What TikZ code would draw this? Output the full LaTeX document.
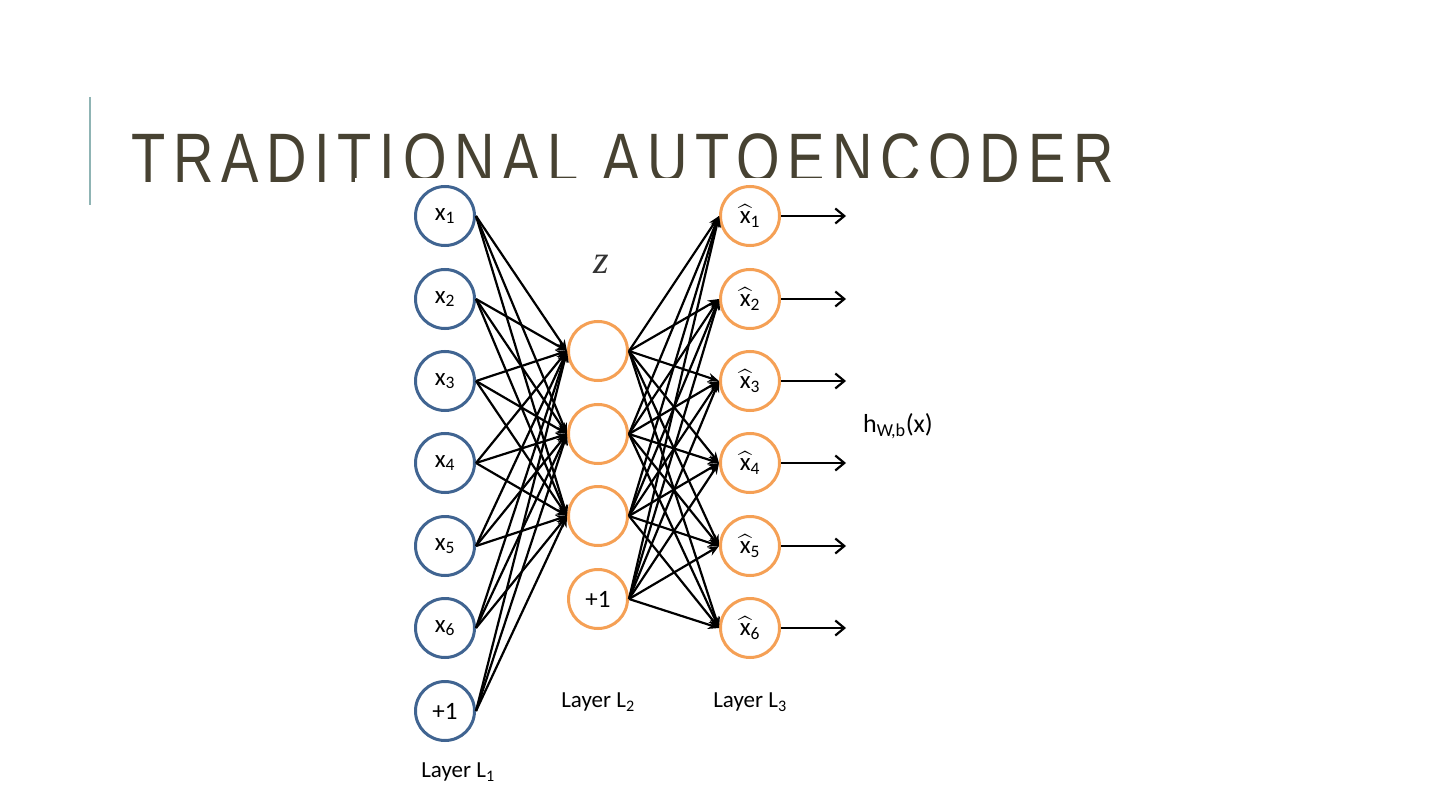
\documentclass[tikz,border=0pt]{standalone}
\usepackage{amsmath}
\usepackage{fontspec}
\setmainfont{Carlito}
\newfontfamily\titlefont[FakeStretch=0.8,LetterSpace=11]{Liberation Sans}
\newfontfamily\zfont{Liberation Serif}
\usetikzlibrary{arrows.meta,positioning}
\definecolor{titlegray}{RGB}{71,66,50}
\definecolor{barteal}{RGB}{143,180,180}
\definecolor{inblue}{RGB}{64,100,145}
\definecolor{hidorange}{RGB}{245,160,85}
\newcommand{\xh}{$\widehat{\text{x}}$}

\begin{document}
\begin{tikzpicture}[x=1pt,y=-1pt,
every node/.style={circle,draw,line width=3pt,minimum size=59pt,inner sep=0pt,
font=\fontsize{25}{28}\selectfont},
lbl/.style={draw=none,rectangle,minimum size=0pt,inner sep=0pt,font=\fontsize{23}{26}\selectfont},
link/.style={line width=2.2pt,-{Stealth[length=11pt,width=9pt]}},
outlink/.style={line width=2.2pt,-{Straight Barb[length=9pt,width=15pt]}}]
\useasboundingbox (0,0) rectangle (1440,810);
% title
\draw[barteal,line width=2pt] (90,97)--(90,205);
\node[lbl,anchor=base west,text=titlegray,font=\titlefont\fontsize{70}{80}\selectfont] (T) at (130,183) {TRADITIONAL AUTOENCODER};
\fill[white] (355,178) rectangle (965,805);
% layer 1
\node[draw=inblue] (X1) at (445,216) {x\textsubscript{1}};
\node[draw=inblue] (X2) at (445,299) {x\textsubscript{2}};
\node[draw=inblue] (X3) at (445,381) {x\textsubscript{3}};
\node[draw=inblue] (X4) at (445,463) {x\textsubscript{4}};
\node[draw=inblue] (X5) at (445,546) {x\textsubscript{5}};
\node[draw=inblue] (X6) at (445,628) {x\textsubscript{6}};
\node[draw=inblue] (X7) at (445,711) {+1};
% layer 2
\node[draw=hidorange] (H1) at (598,351) {};
\node[draw=hidorange] (H2) at (598,434) {};
\node[draw=hidorange] (H3) at (598,516) {};
\node[draw=hidorange] (H4) at (598,599) {+1};
% layer 3
\node[draw=hidorange] (Y1) at (750,216) {\xh\textsubscript{1}};
\node[draw=hidorange] (Y2) at (750,299) {\xh\textsubscript{2}};
\node[draw=hidorange] (Y3) at (750,381) {\xh\textsubscript{3}};
\node[draw=hidorange] (Y4) at (750,463) {\xh\textsubscript{4}};
\node[draw=hidorange] (Y5) at (750,546) {\xh\textsubscript{5}};
\node[draw=hidorange] (Y6) at (750,628) {\xh\textsubscript{6}};
% links
\foreach \i in {1,...,7}
  \foreach \j in {1,2,3}
    \draw[link] (X\i.east)--(H\j.west);
\foreach \i in {1,...,4}
  \foreach \j in {1,...,6}
    \draw[link] (H\i.east)--(Y\j.west);
\foreach \j in {1,...,6}{
  \coordinate[right=65pt of Y\j.east] (E\j);
  \draw[outlink] (Y\j.east)--(E\j);
}
% labels
\node[lbl,font=\zfont\itshape\fontsize{40}{42}\selectfont,text=black!80] (Z) at (601,264) {z};
\node[lbl,font=\fontsize{26}{28}\selectfont] (H) at (898,426) {h\textsubscript{W,b}(x)};
\node[lbl] (L1) at (458,772) {Layer L\textsubscript{1}};
\node[lbl] (L2) at (598,702) {Layer L\textsubscript{2}};
\node[lbl] (L3) at (750,702) {Layer L\textsubscript{3}};
\end{tikzpicture}
\end{document}
